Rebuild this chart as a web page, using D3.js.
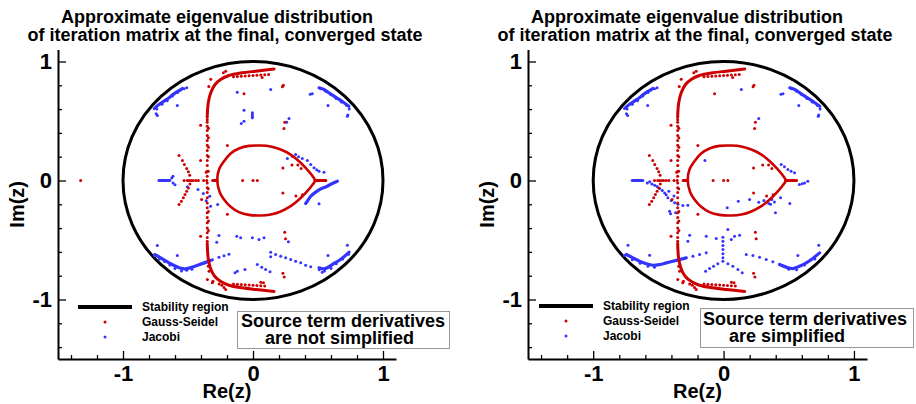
<!DOCTYPE html>
<html>
<head>
<meta charset="utf-8">
<script src="https://cdn.jsdelivr.net/npm/d3@7.9.0/dist/d3.min.js"></script>
<style>
  body { margin: 0; background: #fff; }
  svg { display: block; font-family: "Liberation Sans", Arial, sans-serif; font-weight: bold; }
</style>
</head>
<body>
<svg width="916" height="404"></svg>
<script>
// axis setup
const xDomain = [-1.5, 1.1];
const yDomain = [-1.5, 1.1];
const majorTicks = [-1, 0, 1];
const majorLabels = ['-1', '0', '1'];
const minorTicks = [-1.4, -1.2, -0.8, -0.6, -0.4, -0.2, 0.2, 0.4, 0.6, 0.8];
const titleLines = ['Approximate eigenvalue distribution', 'of iteration matrix at the final, converged state'];
const legendLabels = ['Stability region', 'Gauss-Seidel', 'Jacobi'];
const noteA = ['Source term derivatives', 'are not simplified'];
const noteB = ['Source term derivatives', 'are simplified'];
const stabilityRegion = [{ re: 0, im: 0, r: 1 }];

// Gauss-Seidel eigenvalues (same in both panels), dense chains + single points
const gsLoop = [[-0.275,0],[-0.262,0.09],[-0.223,0.162],[-0.172,0.227],[-0.108,0.269],[-0.031,0.291],[0.059,0.294],[0.136,0.286],[0.213,0.26],[0.29,0.218],[0.354,0.162],[0.405,0.106],[0.449,0.05],[0.477,0],[0.449,-0.048],[0.405,-0.104],[0.354,-0.16],[0.29,-0.216],[0.213,-0.26],[0.136,-0.286],[0.059,-0.294],[-0.031,-0.289],[-0.108,-0.266],[-0.172,-0.221],[-0.223,-0.16],[-0.256,-0.098]];
const gsChains = [
  [[-0.31,0],[-0.275,0]],
  [[0.477,0],[0.56,0]],
  [[-0.352,0.53],[-0.351,0.569],[-0.344,0.653],[-0.325,0.737],[-0.292,0.807],[-0.249,0.849],[-0.185,0.882],[-0.082,0.905],[0.021,0.919],[0.162,0.937]],
  [[-0.352,-0.53],[-0.351,-0.565],[-0.345,-0.65],[-0.328,-0.735],[-0.295,-0.805],[-0.25,-0.847],[-0.185,-0.88],[-0.082,-0.902],[0.021,-0.916],[0.162,-0.932]]
];
const gsPoints = [
  [-0.352,0.51],[-0.352,0.49],[-0.352,0.456],[-0.352,0.42],[-0.352,0.378],[-0.352,0.336],[-0.352,0.297],[-0.352,0.252],[-0.352,0.21],[-0.352,0.168],[-0.352,0.126],[-0.352,0.078],[-0.352,0.036],
  [-0.343,0.44],[-0.343,0.36],[-0.343,0.28],[-0.343,0.2],
  [-0.352,-0.02],[-0.352,-0.06],[-0.352,-0.1],[-0.352,-0.145],[-0.352,-0.19],[-0.352,-0.23],[-0.352,-0.27],[-0.352,-0.31],[-0.352,-0.355],[-0.352,-0.4],[-0.352,-0.44],[-0.352,-0.48],[-0.352,-0.51],
  [-0.343,-0.42],[-0.343,-0.34],[-0.343,-0.26],
  [-0.569,0.21],[-0.543,0.168],[-0.528,0.134],[-0.51,0.1],[-0.497,0.073],[-0.487,0.045],
  [-0.569,-0.202],[-0.551,-0.174],[-0.536,-0.146],[-0.523,-0.118],[-0.51,-0.09],[-0.497,-0.062],[-0.485,-0.03],
  [-0.53,0],[-0.505,0],[-0.49,0],[-0.475,0],[-0.46,0],[-0.44,0],[-0.42,0],[-0.38,0],[-0.356,0],
  [-0.403,0.465],[-0.403,-0.468],[-0.197,0.294],[-0.197,-0.283],[-0.403,0.168],[-0.395,-0.16],
  [-0.344,0.078],[-0.36,0.07],[-0.344,-0.07],[-0.34,0.79],[-0.325,0.85],[-0.228,0.905],[-0.21,0.918],
  [-0.069,0.728],[0.226,0.787],[0.233,0.8],[0.244,0.49],[0.238,0.437],[0.23,0.104],[0.23,-0.104],
  [-0.08,0],[0,0],[0.033,0],[0.244,-0.434],[0.25,-0.49],[0.23,-0.78],[0.24,-0.81],
  [-0.344,-0.72],[-0.338,-0.762],[-0.223,-0.9],[-0.21,-0.916],[-0.313,-0.86],[-0.308,-0.846],[-0.351,-0.832],
  [-0.15,0.872],[-0.12,0.874],[-0.09,0.876],[-0.06,0.878],[-0.03,0.88],[0,0.882],[0.03,0.884],[0.06,0.886],[0.09,0.888],[0.07,0.865],[0.12,0.89],
  [-0.15,-0.87],[-0.12,-0.872],[-0.09,-0.874],[-0.06,-0.876],[-0.03,-0.878],[0,-0.88],[0.03,-0.882],[0.06,-0.884],[0.09,-0.886],[0.06,-0.855],[0.08,-0.86],[-0.26,-0.87],[-0.24,-0.88],
  [0.3,0.13],[0.345,0.13],[0.37,0.1],[0.33,-0.13],[0.38,-0.12]
];
const gsOutlierA = [[-1.326,0]];

// Jacobi eigenvalues, clusters near the circle are the same in both panels
const jacTopChains = [
  [[-0.749,0.616],[-0.723,0.639],[-0.685,0.667],[-0.646,0.695],[-0.608,0.728],[-0.569,0.756],[-0.544,0.773]],
  [[0.508,0.779],[0.546,0.765],[0.585,0.737],[0.623,0.709],[0.662,0.681],[0.7,0.653],[0.738,0.624]]
];
const jacTopPoints = [
  [-0.76,0.605],[-0.74,0.6],[-0.7,0.64],[-0.66,0.67],[-0.62,0.71],[-0.58,0.74],[-0.53,0.77],[-0.51,0.779],[-0.582,0.63],[-0.736,0.546],[-0.745,0.56],
  [0.456,0.728],[0.44,0.725],[0.52,0.77],[0.56,0.75],[0.6,0.72],[0.64,0.69],[0.68,0.66],[0.72,0.63],[0.74,0.6],[0.577,0.63],[0.726,0.54],[0.73,0.55],
  [0.136,0.765]
];

// panel A: not simplified
const jacChainsA = [
  [[-0.754,-0.622],[-0.697,-0.658],[-0.646,-0.692],[-0.595,-0.72],[-0.556,-0.738],[-0.518,-0.742],[-0.467,-0.728],[-0.415,-0.708],[-0.364,-0.688],[-0.313,-0.667]],
  [[0.508,-0.734],[0.546,-0.742],[0.585,-0.725],[0.623,-0.697],[0.662,-0.672],[0.7,-0.641],[0.733,-0.608]],
  [[0.405,-0.193],[0.418,-0.174],[0.444,-0.132],[0.482,-0.098],[0.521,-0.07],[0.572,-0.048],[0.61,-0.025],[0.649,-0.006]],
  [[-0.723,0],[-0.64,0]]
];
const jacPointsA = [
  [-0.121,0.742],[-0.069,0.591],[-0.005,0.57],[-0.005,0.555],[-0.005,0.54],[-0.005,0.527],[-0.069,0.498],[-0.09,0.479],[0.277,0.521],[0.259,0.49],
  [0.264,0.185],[0.302,0.204],[0.328,0.218],[0.35,0.2],[0.379,0.185],[0.418,0.168],[0.444,0.134],[0.469,0.107],[0.49,0.09],[0.508,0.078],[0.546,0.07],
  [-0.625,0.02],[-0.615,0.035],[-0.615,-0.02],[-0.6,-0.035],
  [-0.505,-0.053],[-0.423,-0.076],[-0.382,-0.109],[-0.333,-0.132],[-0.326,-0.216],[-0.272,-0.202],[-0.36,-0.17],
  [-0.262,-0.462],[-0.279,-0.518],[-0.125,-0.468],[-0.095,-0.482],[-0.062,-0.748],[-0.121,-0.762],[-0.138,-0.776],
  [-0.76,-0.63],[-0.72,-0.66],[-0.68,-0.68],[-0.64,-0.71],[-0.6,-0.74],[-0.55,-0.76],[-0.51,-0.755],[-0.47,-0.745],[-0.582,-0.63],[-0.736,-0.546],
  [-0.262,-0.645],[-0.223,-0.632],[-0.185,-0.619],
  [0.136,-0.602],[0.174,-0.622],[0.213,-0.636],[0.251,-0.65],[0.29,-0.664],[0.328,-0.678],[0.367,-0.692],[0.405,-0.712],[0.444,-0.725],[0.136,-0.641],
  [0.033,-0.706],[0.067,-0.728],[0.097,-0.748],[0.131,-0.767],
  [-0.005,-0.482],[0.046,-0.496],[0.085,-0.482],[0.272,-0.515],
  [0.51,-0.75],[0.55,-0.76],[0.6,-0.74],[0.64,-0.7],[0.69,-0.66],[0.735,-0.62],[0.577,-0.63],[0.726,-0.544],[0.533,-0.771],[0.74,-0.6],[0.508,-0.196]
];

// panel B: simplified
const jacChainsB = [
  [[-0.746,-0.622],[-0.695,-0.65],[-0.644,-0.678],[-0.592,-0.7],[-0.542,-0.712],[-0.49,-0.706],[-0.439,-0.692],[-0.388,-0.678],[-0.337,-0.664],[-0.286,-0.65]],
  [[0.429,-0.706],[0.48,-0.728],[0.531,-0.74],[0.582,-0.72],[0.634,-0.692],[0.684,-0.655],[0.736,-0.608]],
  [[-0.7,0],[-0.62,0]]
];
const jacPointsB = [
  [0.27,0.521],[-0.143,0.168],
  [-0.235,-0.636],[-0.184,-0.622],[-0.133,-0.608],
  [0.174,-0.622],[0.225,-0.63],[0.276,-0.644],[0.327,-0.664],[0.378,-0.683],
  [-0.005,-0.476],[-0.005,-0.51],[-0.005,-0.546],[-0.005,-0.58],[-0.005,-0.616],[-0.005,-0.65],[-0.005,-0.678],
  [-0.044,-0.7],[-0.077,-0.72],[-0.107,-0.74],[-0.138,-0.762],[0.033,-0.7],[0.071,-0.72],[0.11,-0.748],[0.143,-0.776],
  [-0.056,-0.487],[-0.133,-0.468],[0.059,-0.496],[0.084,-0.468],[0.123,-0.46],[0.033,-0.412],[-0.274,-0.51],[-0.26,-0.46],
  [-0.567,-0.628],[0.57,-0.63],[0.73,-0.544],[-0.733,-0.544],
  [-0.76,-0.63],[-0.7,-0.665],[-0.64,-0.695],[-0.58,-0.72],[-0.53,-0.73],[0.5,-0.745],[0.56,-0.75],[0.62,-0.71],[0.7,-0.66],
  [-0.585,-0.02],[-0.567,-0.011],[-0.55,-0.03],[-0.529,-0.039],[-0.51,-0.05],[-0.49,-0.067],[-0.47,-0.085],[-0.452,-0.104],
  [-0.427,-0.146],[-0.401,-0.168],[-0.375,-0.188],[-0.35,-0.2],[-0.312,-0.21],[-0.274,-0.208],[-0.414,-0.258],[-0.407,-0.28],
  [-0.368,-0.272],[-0.44,-0.12],[-0.42,-0.09],[-0.38,-0.13],
  [0.028,-0.23],[0.113,-0.174],[0.2,-0.16],[0.27,-0.182],[0.309,-0.168],[0.347,-0.193],[0.37,-0.16],[0.398,-0.272],
  [0.437,-0.146],[0.508,-0.193],[0.36,-0.2],[0.39,-0.18],
  [0.442,0.134],[0.467,0.115],[0.493,0.092],[0.518,0.078],[0.544,0.065],
  [0.582,-0.034],[0.603,-0.028],[0.621,-0.02],[0.646,-0.006]
];

const RED = '#cc0000';
const BLUE = '#3434ff';

let svg = d3.select('svg');

let panels = [
  { xRange: [58, 396], titleX: [217, 225], legendX: 78, legendY: 307, box: [237, 311, 212, 37], noteX: [241, 265], noteY: [327, 343.5], note: noteA,
    gsExtra: gsOutlierA, jacChains: jacChainsA, jacPoints: jacPointsA },
  { xRange: [528, 867], titleX: [687, 695], legendX: 539, legendY: 306, box: [700, 308, 213, 39], noteX: [703, 729], noteY: [325, 341.5], note: noteB,
    gsExtra: [], jacChains: jacChainsB, jacPoints: jacPointsB }
];

panels.forEach((p) => {
  let g = svg.append('g');
  let x = d3.scaleLinear().domain(xDomain).range(p.xRange);
  let y = d3.scaleLinear().domain(yDomain).range([359, 49.6]);

  // titles
  titleLines.forEach((t, i) => {
    g.append('text')
      .attr('x', p.titleX[i]).attr('y', 23 + i * 18)
      .attr('text-anchor', 'middle')
      .attr('font-size', 18)
      .text(t);
  });

  // axes: minor first, then major with labels
  let xMinor = g.append('g').attr('transform', 'translate(0,359)')
    .call(d3.axisBottom(x).tickValues(minorTicks).tickSize(-4).tickSizeOuter(0).tickFormat(''));
  let yMinor = g.append('g').attr('transform', `translate(${p.xRange[0]},0)`)
    .call(d3.axisLeft(y).tickValues(minorTicks).tickSize(-4).tickSizeOuter(0).tickFormat(''));
  let xMajor = g.append('g').attr('transform', 'translate(0,359)')
    .call(d3.axisBottom(x).tickValues(majorTicks).tickSizeInner(-8).tickSizeOuter(0).tickPadding(0)
      .tickFormat((d, i) => majorLabels[i]));
  let yMajor = g.append('g').attr('transform', `translate(${p.xRange[0]},0)`)
    .call(d3.axisLeft(y).tickValues(majorTicks).tickSizeInner(-8).tickSizeOuter(0).tickPadding(6)
      .tickFormat((d, i) => majorLabels[i]));
  [xMinor, yMinor].forEach((a) => a.select('.domain').remove());
  [xMinor, yMinor, xMajor, yMajor].forEach((a) => {
    a.selectAll('line').attr('stroke', '#000').attr('stroke-width', 1.3);
    a.attr('font-family', null).attr('font-size', null);
  });
  [xMajor, yMajor].forEach((a) => {
    a.select('.domain').attr('stroke', '#000').attr('stroke-width', 2);
    a.selectAll('text').attr('font-size', 22).attr('fill', '#000');
  });
  xMajor.selectAll('text').attr('y', 21.5).attr('dy', null);

  // axis titles
  g.append('text')
    .attr('x', (p.xRange[0] + p.xRange[1]) / 2).attr('y', 398)
    .attr('text-anchor', 'middle').attr('font-size', 20)
    .text('Re(z)');
  g.append('text')
    .attr('transform', `translate(${p.xRange[0] - 34},${y(-0.2)}) rotate(-90)`)
    .attr('text-anchor', 'middle').attr('font-size', 20)
    .text('Im(z)');

  // stability region
  g.selectAll('ellipse.ring')
    .data(stabilityRegion)
    .join('ellipse')
    .attr('class', 'ring')
    .attr('cx', (d) => x(d.re)).attr('cy', (d) => y(d.im))
    .attr('rx', (d) => x(d.re + d.r) - x(d.re)).attr('ry', (d) => y(d.im) - y(d.im + d.r))
    .attr('fill', 'none').attr('stroke', '#000').attr('stroke-width', 3);

  let line = d3.line().x((d) => x(d[0])).y((d) => y(d[1])).curve(d3.curveCatmullRom);
  let loop = d3.line().x((d) => x(d[0])).y((d) => y(d[1])).curve(d3.curveCatmullRomClosed);

  // Jacobi
  g.append('g').selectAll('path')
    .data(jacTopChains.concat(p.jacChains))
    .join('path')
    .attr('d', line)
    .attr('fill', 'none').attr('stroke', BLUE).attr('stroke-width', 3.2).attr('stroke-linecap', 'round');
  g.append('g').selectAll('circle')
    .data(jacTopPoints.concat(p.jacPoints))
    .join('circle')
    .attr('cx', (d) => x(d[0])).attr('cy', (d) => y(d[1]))
    .attr('r', 1.5).attr('fill', BLUE);

  // Gauss-Seidel
  g.append('path')
    .attr('d', loop(gsLoop))
    .attr('fill', 'none').attr('stroke', RED).attr('stroke-width', 2.6);
  g.append('g').selectAll('path')
    .data(gsChains)
    .join('path')
    .attr('d', line)
    .attr('fill', 'none').attr('stroke', RED).attr('stroke-width', 3).attr('stroke-linecap', 'round');
  g.append('g').selectAll('circle')
    .data(gsPoints.concat(p.gsExtra))
    .join('circle')
    .attr('cx', (d) => x(d[0])).attr('cy', (d) => y(d[1]))
    .attr('r', 1.5).attr('fill', RED);

  // legend
  let lg = g.append('g');
  lg.append('line')
    .attr('x1', p.legendX).attr('x2', p.legendX + 54)
    .attr('y1', p.legendY).attr('y2', p.legendY)
    .attr('stroke', '#000').attr('stroke-width', 4);
  [RED, BLUE].forEach((c, i) => {
    lg.append('circle')
      .attr('cx', p.legendX + 27).attr('cy', p.legendY + 15 * (i + 1))
      .attr('r', 1.5).attr('fill', c);
  });
  legendLabels.forEach((t, i) => {
    lg.append('text')
      .attr('x', p.legendX + 64).attr('y', p.legendY + 3.5 + 15 * i)
      .attr('font-size', 12)
      .text(t);
  });

  // note box
  g.append('rect')
    .attr('x', p.box[0] + 0.5).attr('y', p.box[1] + 0.5)
    .attr('width', p.box[2]).attr('height', p.box[3])
    .attr('fill', '#fff').attr('stroke', '#999').attr('stroke-width', 1);
  p.note.forEach((t, i) => {
    g.append('text')
      .attr('x', p.noteX[i]).attr('y', p.noteY[i])
      .attr('font-size', 18)
      .text(t);
  });
});
</script>
</body>
</html>
